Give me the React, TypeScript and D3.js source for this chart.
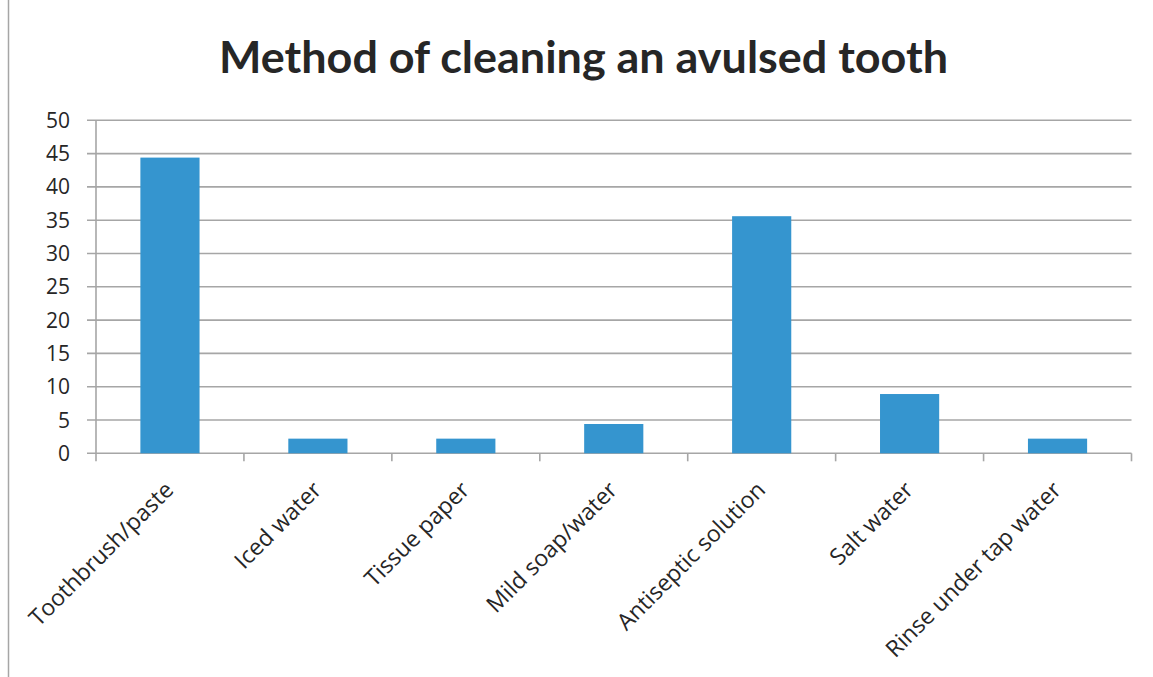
import React from "react";
import * as d3 from "d3";

const categories = [
  "Toothbrush/paste",
  "Iced water",
  "Tissue paper",
  "Mild soap/water",
  "Antiseptic solution",
  "Salt water",
  "Rinse under tap water",
];
const values = [44.4, 2.2, 2.2, 4.4, 35.6, 8.9, 2.2];
const yTicks = [0, 5, 10, 15, 20, 25, 30, 35, 40, 45, 50];
const title = "Method of cleaning an avulsed tooth";

export default function App() {
  const W = 1153, H = 677;
  const left = 96, right = 1131.5, top = 120.3, bottom = 453.3;
  const x = d3.scaleBand<string>().domain(categories).range([left, right]).paddingInner(0).paddingOuter(0);
  const y = d3.scaleLinear().domain([0, 50]).range([bottom, top]);
  const bw = x.bandwidth() * 0.4;
  const font = "'Open Sans', 'DejaVu Sans', sans-serif";
  const grid = "#a6a6a6";
  return (
    <svg width={W} height={H} style={{ position: "absolute", left: 0, top: 0 }}>
      <rect x={0} y={0} width={W} height={H} fill="#fff" />
      <line x1={8.5} x2={8.5} y1={0} y2={677} stroke="#a6a6a6" strokeWidth={1.5} />
      <text x={219} y={73} textLength={729} lengthAdjust="spacingAndGlyphs" fontFamily="Lato, 'Open Sans', sans-serif" fontWeight="bold" fontSize={43} fill="#262626">
        {title}
      </text>
      {yTicks.map((t) => (
        <g key={t}>
          <line x1={87} x2={right} y1={y(t)} y2={y(t)} stroke={grid} strokeWidth={1.6} />
          <text x={70} y={y(t)} dy="0.36em" textAnchor="end" fontFamily={font} fontSize={21} fill="#262626">
            {t}
          </text>
        </g>
      ))}
      <line x1={left} x2={left} y1={top} y2={bottom + 8} stroke={grid} strokeWidth={1.6} />
      {categories.map((c, i) => (
        <line key={"t" + i} x1={(x(c) as number) + x.bandwidth()} x2={(x(c) as number) + x.bandwidth()} y1={bottom} y2={bottom + 8} stroke={grid} strokeWidth={1.6} />
      ))}
      {categories.map((c, i) => {
        const cx = (x(c) as number) + x.bandwidth() / 2;
        return (
          <rect key={c} x={cx - bw / 2} y={y(values[i])} width={bw} height={bottom - y(values[i])} fill="#3595cf" />
        );
      })}
      {categories.map((c) => {
        const cx = (x(c) as number) + x.bandwidth() / 2 + 5;
        const ty = bottom + 38;
        return (
          <text key={"l" + c} x={cx} y={ty} transform={`rotate(-45 ${cx} ${ty})`} textAnchor="end" fontFamily={font} fontSize={23} fill="#262626">
            {c}
          </text>
        );
      })}
    </svg>
  );
}
